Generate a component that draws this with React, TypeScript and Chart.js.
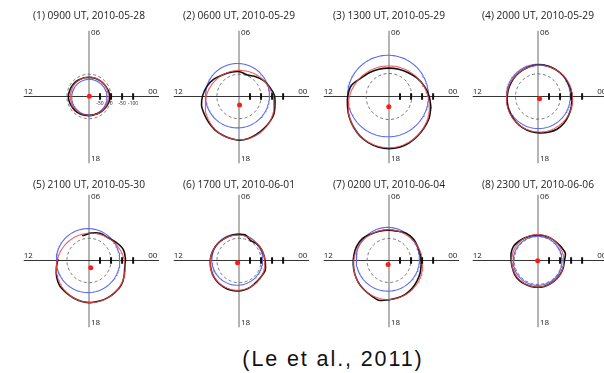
import React, { useEffect, useRef } from "react";
import { Chart, registerables } from "chart.js";
Chart.register(...registerables);

// ---------- data ----------
const PANEL_TITLES = [
  "(1) 0900 UT, 2010-05-28",
  "(2) 0600 UT, 2010-05-29",
  "(3) 1300 UT, 2010-05-29",
  "(4) 2000 UT, 2010-05-29",
  "(5) 2100 UT, 2010-05-30",
  "(6) 1700 UT, 2010-06-01",
  "(7) 0200 UT, 2010-06-04",
  "(8) 2300 UT, 2010-06-06",
];
const MLT_LABEL_TOP = "06";
const MLT_LABEL_LEFT = "12";
const MLT_LABEL_RIGHT = "00";
const MLT_LABEL_BOTTOM = "18";
const TICK_POSITIONS = [1, 2, 3, 4];
const TICK_LABELS = ["-50", "0", "-50", "-100"];
const CAPTION = "(Le et al., 2011)";

// blue circle (centre x, centre y, radius)
const BLUE_CX = [0.03, -0.14, -0.09, 0.03, -0.09, -0.16, -0.11, -0.03];
const BLUE_CY = [-0.06, 0.07, 0.04, 0.01, -0.01, 0.07, 0.11, -0.03];
const BLUE_R = [1.6, 2.9, 3.67, 2.9, 2.88, 2.3, 2.87, 2.21];
// red fitted circle (its centre is the red dot)
const RED_CX = [0.03, 0.05, -0.02, 0.14, 0.16, -0.13, -0.08, -0.03];
const RED_CY = [0.02, -0.77, -0.93, -0.2, -0.66, -0.2, -0.37, -0.03];
const RED_R = [1.72, 3.12, 3.68, 3.0, 3.12, 2.48, 3.14, 2.36];
// dashed reference circle about the pole
const DASH_R = [2.0, 2.0, 2.07, 2.04, 2.0, 2.0, 1.98, 2.15];

// observed boundary (black): radius about red centre, at MLT 00..23
const BLACK_MLT = [0, 1, 2, 3, 4, 5, 6, 7, 8, 9, 10, 11, 12, 13, 14, 15, 16, 17, 18, 19, 20, 21, 22, 23];
const BLACK_R1 = [1.88, 1.8, 1.74, 1.72, 1.7, 1.7, 1.7, 1.72, 1.75, 1.8, 1.83, 1.86, 1.9, 1.88, 1.84, 1.82, 1.8, 1.76, 1.74, 1.72, 1.74, 1.76, 1.8, 1.85];
const BLACK_R2 = [3.22, 3.28, 3.18, 3.1, 2.95, 2.8, 3.0, 3.05, 3.12, 3.3, 3.4, 3.45, 3.45, 3.3, 3.2, 3.16, 3.12, 3.12, 3.16, 3.12, 3.05, 3.05, 3.12, 3.22];
const BLACK_R3 = [3.82, 3.78, 3.72, 3.64, 3.55, 3.5, 3.48, 3.5, 3.55, 3.62, 3.9, 3.85, 3.74, 3.7, 3.68, 3.7, 3.72, 3.75, 3.77, 3.77, 3.73, 3.7, 3.72, 3.8];
const BLACK_R4 = [2.95, 2.95, 2.95, 2.98, 3.0, 3.03, 3.03, 3.03, 3.0, 2.98, 2.96, 2.95, 2.94, 2.95, 2.97, 3.0, 3.03, 3.06, 3.08, 3.12, 3.17, 3.12, 3.03, 2.98];
const BLACK_R5 = [3.08, 3.25, 3.38, 3.25, 3.12, 3.22, 3.12, 2.98, null, null, null, 3.08, 3.12, 3.2, 3.25, 3.17, 3.13, 3.13, 3.13, 3.1, 3.1, 3.12, 3.17, 3.12];
const BLACK_R6 = [2.52, 2.48, 2.47, 2.42, 2.33, 2.6, 2.55, 2.52, 2.48, 2.48, 2.48, 2.48, 2.48, 2.48, 2.5, 2.52, 2.52, 2.55, 2.55, 2.52, 2.48, 2.44, 2.48, 2.6];
const BLACK_R7 = [3.0, 3.05, 3.12, 3.25, 3.25, 3.12, 3.1, 3.1, 3.16, 3.3, 3.3, 3.22, 3.16, 3.14, 3.14, 3.14, 3.18, 3.32, 3.18, 3.12, 3.1, 3.05, 3.0, 3.0];
const BLACK_R8 = [2.43, 2.6, 2.47, 2.38, 2.36, 2.34, 2.32, 2.34, 2.38, 2.46, 2.55, 2.5, 2.4, 2.38, 2.42, 2.42, 2.4, 2.38, 2.38, 2.38, 2.36, 2.36, 2.38, 2.4];
const BLACK_R = [BLACK_R1, BLACK_R2, BLACK_R3, BLACK_R4, BLACK_R5, BLACK_R6, BLACK_R7, BLACK_R8];

// ---------- layout / style ----------
const PX_PER_UNIT = 11.65;
const CANVAS_W = 150;
const CANVAS_H = 172;
const CENTER_OFF_X = 75;
const CENTER_OFF_Y = 97;
const PANEL_CENTERS_X = [89, 239, 389, 538];
const ROW_CENTERS_Y = [97, 261];
const X_MIN = -CENTER_OFF_X / PX_PER_UNIT;
const X_MAX = (CANVAS_W - CENTER_OFF_X) / PX_PER_UNIT;
const Y_MAX = CENTER_OFF_Y / PX_PER_UNIT;
const Y_MIN = -(CANVAS_H - CENTER_OFF_Y) / PX_PER_UNIT;
const AXIS_X_MIN = -5.92;
const AXIS_X_MAX = 6.35;
const AXIS_Y_MAX = 5.92;
const AXIS_Y_MIN = -6.0;

const COL_BLUE = "#5b6cf2";
const COL_RED = "#ee4f4f";
const COL_BLACK = "#111111";
const COL_DASH = "#6e6e6e";
const FONT = '"Open Sans", "DejaVu Sans", sans-serif';

function circlePoints(cx: number, cy: number, r: number, n = 144) {
  const pts: { x: number; y: number }[] = [];
  for (let i = 0; i <= n; i++) {
    const a = (i / n) * Math.PI * 2;
    pts.push({ x: cx + r * Math.cos(a), y: cy + r * Math.sin(a) });
  }
  return pts;
}

function boundaryPoints(cx: number, cy: number, radii: (number | null)[]) {
  const pts: { x: number; y: number }[] = [];
  const list = [...BLACK_MLT, BLACK_MLT[0] + 24];
  list.forEach((mlt, k) => {
    const r = radii[k % radii.length];
    const a = (mlt * 15 * Math.PI) / 180;
    if (r === null) pts.push({ x: NaN, y: NaN });
    else pts.push({ x: cx + r * Math.cos(a), y: cy + r * Math.sin(a) });
  });
  return pts;
}

const textPlugin = {
  id: "panelText",
  afterDatasetsDraw(chart: any, _args: any, opts: any) {
    const { ctx } = chart;
    const xs = chart.scales.x;
    const ys = chart.scales.y;
    const px = (v: number) => xs.getPixelForValue(v);
    const py = (v: number) => ys.getPixelForValue(v);
    ctx.save();
    ctx.fillStyle = "#222";
    ctx.textBaseline = "middle";
    ctx.font = `10.2px ${FONT}`;
    ctx.textAlign = "center";
    ctx.fillText(opts.title, px(0), py(opts.titleY));
    ctx.font = `8px ${FONT}`;
    ctx.textAlign = "left";
    ctx.fillText(MLT_LABEL_TOP, px(0) + 2, py(5.75));
    ctx.fillText(MLT_LABEL_BOTTOM, px(0) + 2, py(-5.62));
    ctx.fillText(MLT_LABEL_LEFT, px(AXIS_X_MIN), py(0.47));
    ctx.textAlign = "right";
    ctx.fillText(MLT_LABEL_RIGHT, px(6.2), py(0.47));
    if (opts.tickLabels) {
      ctx.font = `5px ${FONT}`;
      ctx.textAlign = "center";
      TICK_POSITIONS.forEach((t, i) => ctx.fillText(TICK_LABELS[i], px(t), py(-0.6)));
    }
    ctx.restore();
  },
};

function Panel({ idx }: { idx: number }) {
  const ref = useRef<HTMLCanvasElement | null>(null);
  useEffect(() => {
    if (!ref.current) return;
    const tickData: { x: number; y: number }[] = [];
    TICK_POSITIONS.forEach((t) => {
      tickData.push({ x: t, y: -0.3 }, { x: t, y: 0.3 }, { x: NaN, y: NaN });
    });
    const layers: any[] = [
      { data: [{ x: 0, y: AXIS_Y_MAX }, { x: 0, y: AXIS_Y_MIN }], borderColor: "#9c9c9c", borderWidth: 1.5 },
      { data: [{ x: AXIS_X_MIN, y: 0 }, { x: AXIS_X_MAX, y: 0 }], borderColor: "#333333", borderWidth: 1 },
      { data: circlePoints(0, 0, DASH_R[idx]), borderColor: COL_DASH, borderWidth: 1, borderDash: [3, 2.5] },
      { data: circlePoints(BLUE_CX[idx], BLUE_CY[idx], BLUE_R[idx]), borderColor: COL_BLUE, borderWidth: 1.1 },
      { data: boundaryPoints(RED_CX[idx], RED_CY[idx], BLACK_R[idx]), borderColor: COL_BLACK, borderWidth: 1.6, tension: 0.3 },
      { data: circlePoints(RED_CX[idx], RED_CY[idx], RED_R[idx]), borderColor: "rgba(238,70,70,0.85)", borderWidth: 1.1 },
      { data: tickData, borderColor: COL_BLACK, borderWidth: 2 },
      {
        data: [{ x: RED_CX[idx], y: RED_CY[idx] }],
        showLine: false,
        pointRadius: 2.5,
        pointBackgroundColor: "#ff1a1a",
        pointBorderColor: "#ff1a1a",
        pointBorderWidth: 0,
      },
    ];
    const n = layers.length;
    const datasets = layers.map((l, i) => ({
      showLine: true,
      pointRadius: 0,
      fill: false,
      clip: false,
      spanGaps: false,
      tension: 0,
      order: n - i,
      ...l,
    }));
    const chart = new Chart(ref.current, {
      type: "scatter",
      data: { datasets },
      options: {
        animation: false,
        responsive: false,
        maintainAspectRatio: false,
        events: [],
        layout: { padding: 0 },
        scales: {
          x: { type: "linear", min: X_MIN, max: X_MAX, display: false },
          y: { type: "linear", min: Y_MIN, max: Y_MAX, display: false },
        },
        plugins: {
          legend: { display: false },
          tooltip: { enabled: false },
          panelText: { title: PANEL_TITLES[idx], titleY: idx < 4 ? 7.2 : 6.8, tickLabels: idx === 0 },
        } as any,
      },
      plugins: [textPlugin],
    } as any);
    return () => chart.destroy();
  }, [idx]);
  const col = idx % 4;
  const row = Math.floor(idx / 4);
  return (
    <canvas
      ref={ref}
      width={CANVAS_W}
      height={CANVAS_H}
      style={{
        position: "absolute",
        left: PANEL_CENTERS_X[col] - CENTER_OFF_X,
        top: ROW_CENTERS_Y[row] - CENTER_OFF_Y,
        width: CANVAS_W,
        height: CANVAS_H,
      }}
    />
  );
}

export default function App() {
  return (
    <div
      style={{
        position: "fixed",
        left: 0,
        top: 0,
        width: 604,
        height: 373,
        overflow: "hidden",
        background: "#ffffff",
      }}
    >
      {PANEL_TITLES.map((_, i) => (
        <Panel key={i} idx={i} />
      ))}
      <div
        style={{
          position: "absolute",
          left: 183,
          top: 347,
          width: 300,
          textAlign: "center",
          fontFamily: '"Liberation Sans", Arial, sans-serif',
          fontSize: 21.5,
          lineHeight: "24px",
          letterSpacing: "1.9px",
          color: "#111",
        }}
      >
        {CAPTION}
      </div>
    </div>
  );
}
